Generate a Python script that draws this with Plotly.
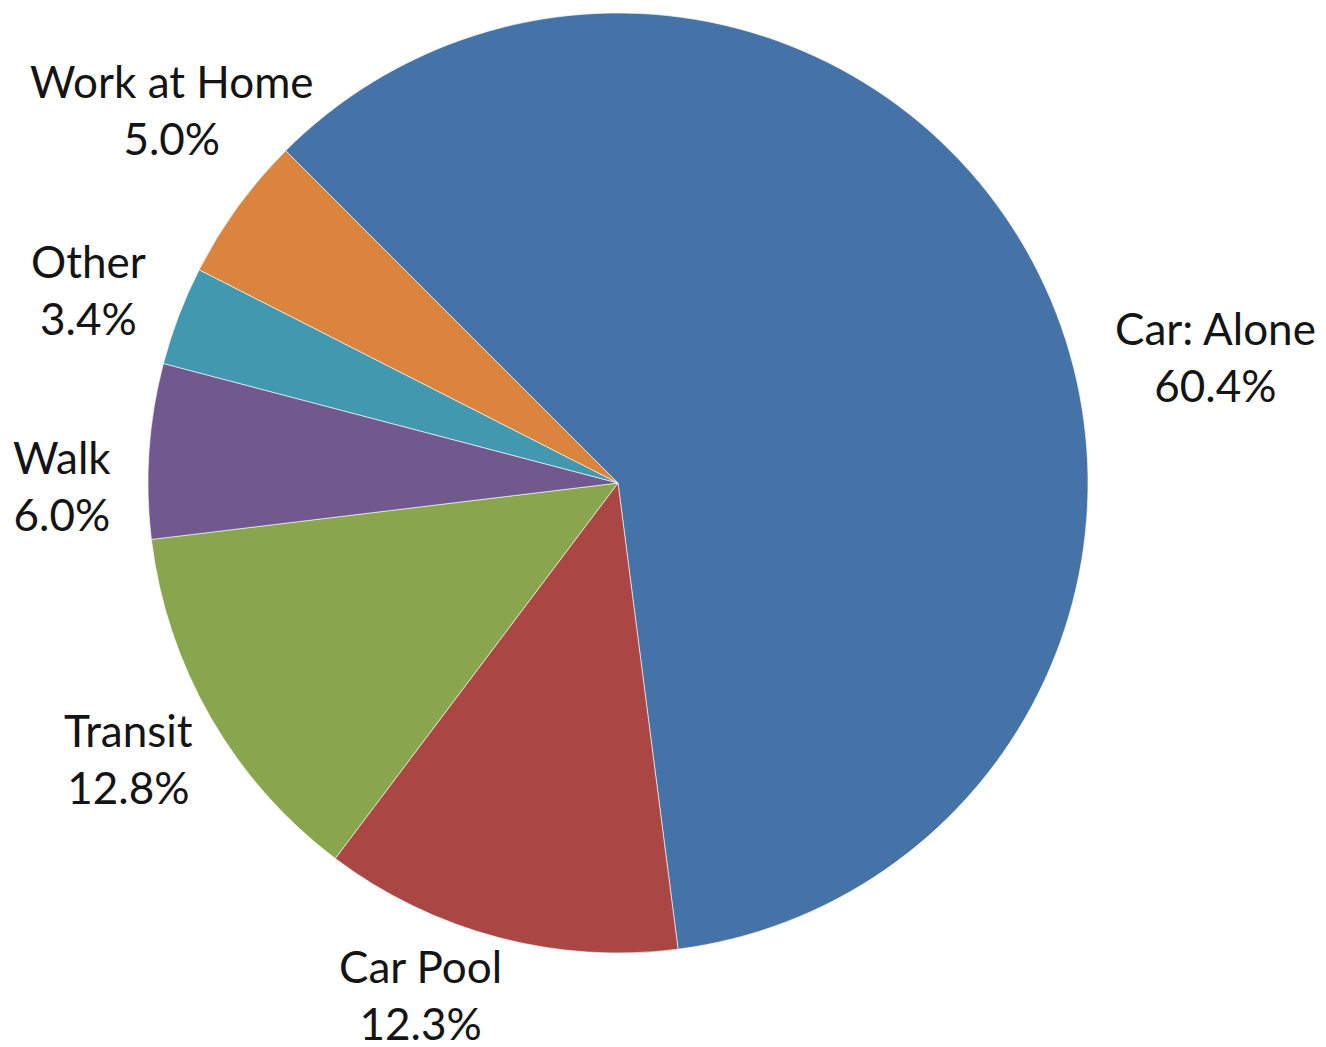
import plotly.graph_objects as go

# Commute mode share
modes = ["Car: Alone", "Car Pool", "Transit", "Walk", "Other", "Work at Home"]
shares = [60.4, 12.3, 12.8, 6.0, 3.4, 5.0]
colors = ["#4572A7", "#AA4643", "#89A54E", "#71588F", "#4198AF", "#DB843D"]

# Label anchor points (pixel centres of each two-line label)
label_px = [(1215, 356), (420, 994), (128, 758), (62, 486), (88, 289), (172, 110)]

W, H = 1326, 1047
cx, cy, r = 618, 483, 470

fig = go.Figure(
    go.Pie(
        labels=modes,
        values=shares,
        sort=False,
        direction="clockwise",
        rotation=-45,
        marker=dict(colors=colors, line=dict(color="rgba(255,255,255,0.6)", width=1)),
        textinfo="none",
        hoverinfo="label+percent",
        showlegend=False,
        domain=dict(
            x=[(cx - r) / W, (cx + r) / W],
            y=[1 - (cy + r) / H, 1 - (cy - r) / H],
        ),
    )
)

for name, val, (px, py) in zip(modes, shares, label_px):
    fig.add_annotation(
        x=px / W,
        y=1 - py / H,
        xref="paper",
        yref="paper",
        text=f"{name}<br>{val:.1f}%",
        showarrow=False,
        xanchor="center",
        yanchor="middle",
        align="center",
        font=dict(family="Lato", size=44, color="#141414"),
    )

fig.update_layout(
    width=W,
    height=H,
    margin=dict(l=0, r=0, t=0, b=0),
    paper_bgcolor="white",
    plot_bgcolor="white",
)

fig.write_html("out.html")
